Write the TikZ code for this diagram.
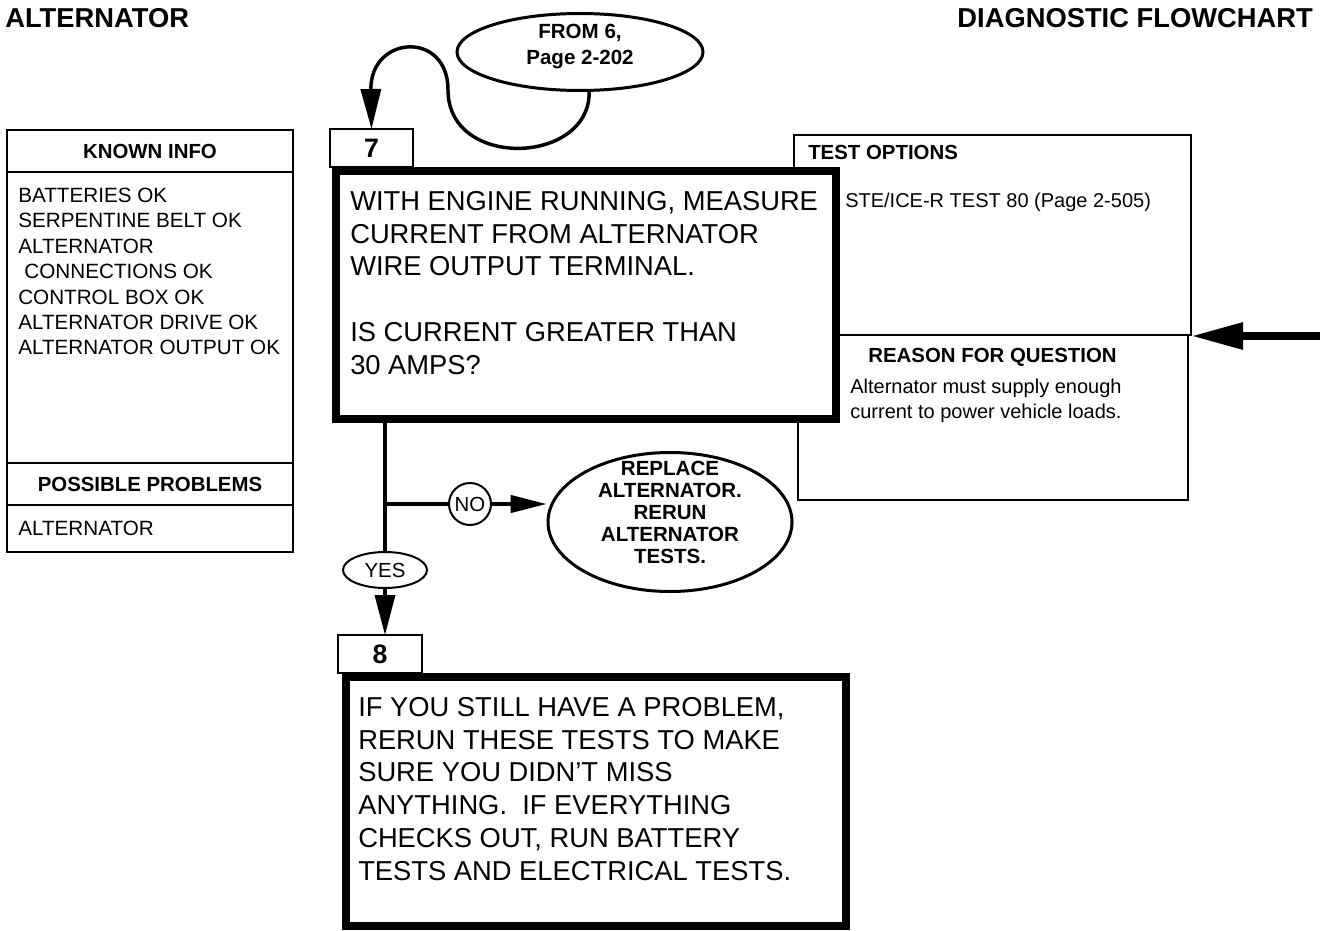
\documentclass[tikz,border=0pt]{standalone}
\usepackage{fontspec}
\setmainfont{Liberation Sans}
\usepackage{tikz}
\usetikzlibrary{arrows.meta, positioning, shapes.geometric}
\tikzstyle{thinbox} = [rectangle, draw=black, line width=1.5pt, fill=white, inner sep=0pt, outer sep=0pt]
\tikzstyle{infobox} = [thinbox, minimum width=214.5pt, minimum height=31.5pt]
\tikzstyle{stepbox} = [rectangle, draw=black, line width=6pt, fill=white, inner sep=0pt, minimum width=375pt]
\tikzstyle{tabbox} = [thinbox, minimum height=28.5pt, font=\fontsize{20}{24}\selectfont\bfseries]
\tikzstyle{oval} = [ellipse, draw=black, line width=2.25pt, fill=white, inner sep=0pt]
\tikzstyle{ovaltext} = [inner sep=0pt, align=center, font=\fontsize{15.4}{16.5}\selectfont\bfseries]
\tikzstyle{tag} = [ellipse, draw=black, line width=1.5pt, fill=white, inner sep=0pt, font=\fontsize{15.3}{18}\selectfont]
\tikzstyle{head} = [inner sep=0pt, font=\fontsize{15.3}{18}\selectfont\bfseries]
\tikzstyle{bigtext} = [inner sep=0pt, align=left, font=\fontsize{20.5}{24.6}\selectfont]
\tikzstyle{listtext} = [inner sep=0pt, align=left, font=\fontsize{15.5}{19.1}\selectfont]
\tikzstyle{smalltext} = [inner sep=0pt, align=left, font=\fontsize{15}{18.75}\selectfont]
\tikzstyle{titletext} = [inner sep=0pt, font=\fontsize{20.5}{24}\selectfont\bfseries]
\tikzstyle{link} = [line width=2.6pt]
\tikzstyle{arrow} = [line width=2.6pt, -{Triangle[length=30pt, width=15pt]}]
\tikzstyle{arrowno} = [line width=2.6pt, -{Triangle[length=27pt, width=13pt]}]
\tikzstyle{bigarrow} = [line width=6pt, -{Triangle[length=39pt, width=19pt]}]

\begin{document}
\begin{tikzpicture}[x=0.75pt, y=-0.75pt]
    \useasboundingbox[fill=white] (0,0) rectangle (1327,931);

    \node (title) [titletext, anchor=base west] at (5,28) {ALTERNATOR};
    \node (chart) [titletext, anchor=base east] at (1313,28) {DIAGNOSTIC FLOWCHART};

    % left column
    \node (known) [infobox, head] at (150,151) {KNOWN INFO};
    \node (knownbody) [infobox, minimum height=218.25pt, below=0pt of known] {};
    \node (knownlist) [listtext, anchor=north west, below right=11.6pt and 8.25pt of knownbody.north west]
        {BATTERIES OK\\SERPENTINE BELT OK\\ALTERNATOR\\\hspace{0.3em}CONNECTIONS OK\\CONTROL BOX OK\\ALTERNATOR DRIVE OK\\ALTERNATOR OUTPUT OK};
    \node (possible) [infobox, head, below=0pt of knownbody] {POSSIBLE PROBLEMS};
    \node (possiblebody) [infobox, minimum height=35.25pt, below=0pt of possible] {};
    \node (possiblelist) [listtext, right=8.25pt of possiblebody.west] {ALTERNATOR};

    % right column
    \node (opts) [thinbox, minimum width=297.75pt, minimum height=150pt] at (992.5,235) {};
    \node (reason) [thinbox, minimum width=292.5pt, minimum height=123.75pt, below=0pt of opts] {};
    \node (optshead) [head, anchor=north west, below right=7.5pt and 10.5pt of opts.north west] {TEST OPTIONS};
    \node (optslist) [smalltext, anchor=north west, below right=43.5pt and 38.25pt of opts.north west] {STE/ICE-R TEST 80 (Page 2-505)};
    \node (reasonhead) [head, below=9.75pt of reason.north] {REASON FOR QUESTION};
    \node (reasontext) [smalltext, anchor=north west, below right=33pt and 39.4pt of reason.north west]
        {Alternator must supply enough\\current to power vehicle loads.};
    \coordinate (feed) at (1320,336);
    \draw[bigarrow] (feed) -- (feed -| opts.east);

    % step 7
    \node (from) [oval, minimum width=184.5pt, minimum height=57.75pt] at (580,52) {};
    \node (fromtext) [ovaltext, font=\fontsize{15.4}{19.5}\selectfont\bfseries] at ([yshift=4pt]from.center) {FROM 6,\\Page 2-202};
    \node (q7) [stepbox, minimum height=186pt] at (586,295) {};
    \node (tab7) [tabbox, minimum width=62.25pt, anchor=south west, above right=0pt and -1.5pt of q7.north west] {7};
    \node (q7text) [bigtext, anchor=north west, below right=18pt and 13.5pt of q7.north west]
        {WITH ENGINE RUNNING, MEASURE\\CURRENT FROM ALTERNATOR\\WIRE OUTPUT TERMINAL.\\[24.6pt]IS CURRENT GREATER THAN\\30 AMPS?};
    \draw[arrow] (from.-77) .. controls (590,165) and (448,170) .. (448,90)
        .. controls (448,30) and (370,35) .. (tab7.north);

    % answers
    \node (yes) [tag, minimum width=63pt, minimum height=27pt] at (385,570) {YES};
    \node (no) [tag, circle, minimum size=31.5pt] at (470,504) {NO};
    \node (replace) [oval, minimum width=183pt, minimum height=104.25pt] at (670,522) {};
    \node (replacetext) [ovaltext] at ([yshift=7.5pt]replace.center) {REPLACE\\ALTERNATOR.\\RERUN\\ALTERNATOR\\TESTS.};
    \draw[link] (q7.south -| yes.north) -- (yes.north);
    \draw[link] (no.west -| yes.north) -- (no.west);
    \draw[arrowno] (no.east) -- (no.east -| replace.west);

    % step 8
    \node (q8) [stepbox, minimum height=186.75pt] at (596,801.5) {};
    \node (tab8) [tabbox, minimum width=63pt, anchor=south west, above right=0pt and -3pt of q8.north west] {8};
    \node (q8text) [bigtext, anchor=north west, below right=18pt and 12pt of q8.north west]
        {IF YOU STILL HAVE A PROBLEM,\\RERUN THESE TESTS TO MAKE\\SURE YOU DIDN'T MISS\\ANYTHING.\ \ IF EVERYTHING\\CHECKS OUT, RUN BATTERY\\TESTS AND ELECTRICAL TESTS.};
    \draw[arrow] (yes.south) -- (yes.south |- tab8.north);
\end{tikzpicture}
\end{document}
